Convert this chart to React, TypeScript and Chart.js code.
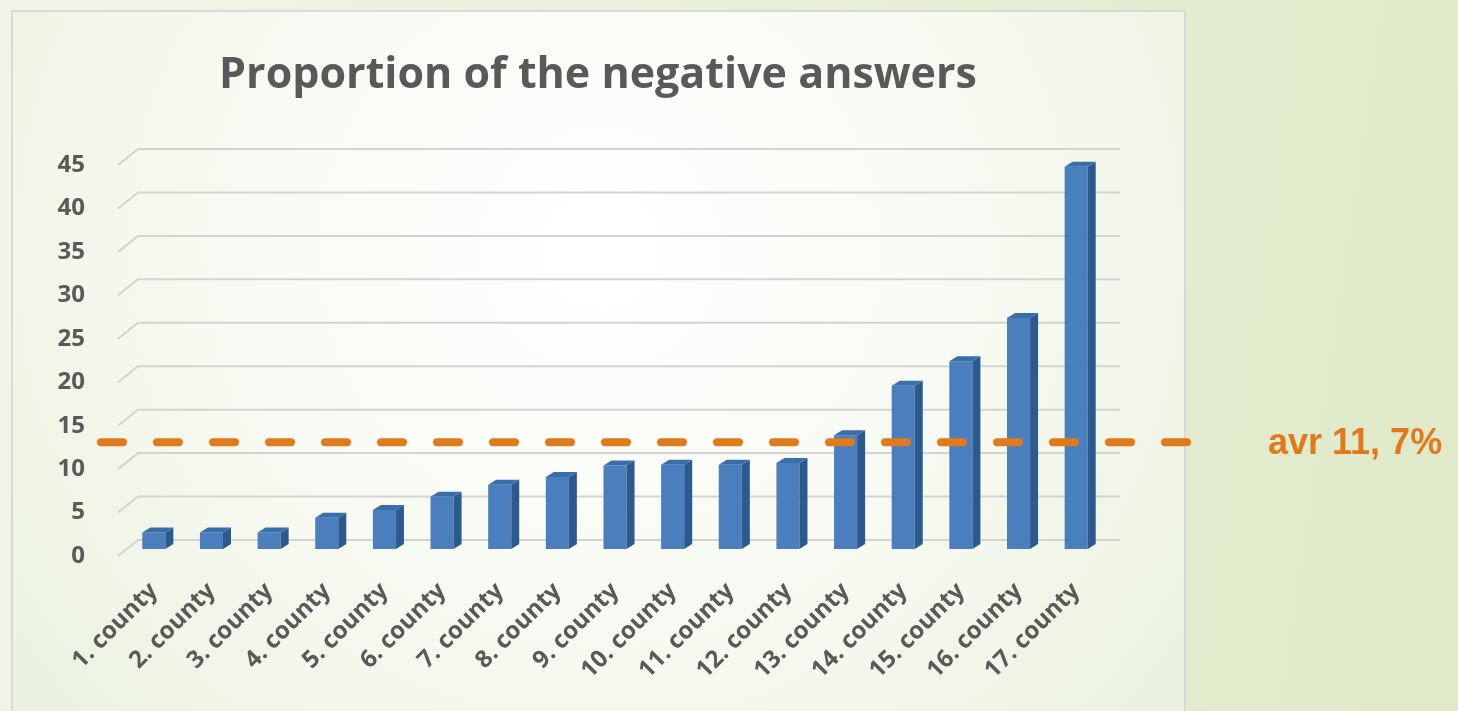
import React, { useEffect, useRef } from "react";
import { Chart, registerables } from "chart.js";

Chart.register(...registerables);

// Share of negative answers per county (%)
const counties = [
  "1. county", "2. county", "3. county", "4. county", "5. county", "6. county",
  "7. county", "8. county", "9. county", "10. county", "11. county", "12. county",
  "13. county", "14. county", "15. county", "16. county", "17. county",
];
const negativeShare = [1.9, 1.9, 1.9, 3.6, 4.5, 6.0, 7.4, 8.3, 9.6, 9.7, 9.7, 9.9, 13.1, 18.8, 21.6, 26.6, 44.0];
const averageShare = 11.7;
const averageLabel = "avr 11, 7%";
const chartTitle = "Proportion of the negative answers";
const yTicks = [0, 5, 10, 15, 20, 25, 30, 35, 40, 45];

const GREY = "#595959";
const ORANGE = "#E07A1C";

// Slide + chart-panel backdrop
const backdropPlugin = {
  id: "backdrop",
  beforeDraw(chart: any) {
    const { ctx, width, height } = chart;
    ctx.save();
    const page = ctx.createLinearGradient(0, 0, width, height * 0.3);
    page.addColorStop(0, "#f1f5e8");
    page.addColorStop(1, "#e0eac9");
    ctx.fillStyle = page;
    ctx.fillRect(0, 0, width, height);

    const px = 12, py = 11, pw = 1185 - 12, ph = height + 10;
    const rad = ctx.createRadialGradient(600, 250, 20, 600, 250, 900);
    rad.addColorStop(0, "#ffffff");
    rad.addColorStop(0.4, "#f7faf2");
    rad.addColorStop(1, "#e6eed6");
    ctx.fillStyle = rad;
    ctx.fillRect(px, py, pw, ph);
    ctx.strokeStyle = "#d8d8d8";
    ctx.lineWidth = 2;
    ctx.strokeRect(px, py, pw, ph);

    ctx.fillStyle = GREY;
    ctx.font = "bold 43px 'Open Sans'";
    ctx.textAlign = "center";
    ctx.textBaseline = "alphabetic";
    ctx.fillText(chartTitle, 598, 88);
    ctx.restore();
  },
};

// Perspective gridlines: back-wall line plus a slanted floor stub
const gridPlugin = {
  id: "perspectiveGrid",
  beforeDatasetsDraw(chart: any) {
    const { ctx, chartArea } = chart;
    const y = chart.scales.y;
    ctx.save();
    ctx.strokeStyle = "#d3d3d3";
    ctx.lineWidth = 2;
    yTicks.forEach((v) => {
      const py = y.getPixelForValue(v);
      ctx.beginPath();
      ctx.moveTo(chartArea.left - 7, py + 7);
      ctx.lineTo(chartArea.left + 13, py - 9);
      ctx.lineTo(chartArea.right + 15, py - 9);
      ctx.stroke();
    });
    ctx.restore();
  },
};

// Side and top faces for the bars
const bar3dPlugin = {
  id: "bar3d",
  afterDatasetsDraw(chart: any) {
    const { ctx } = chart;
    const meta = chart.getDatasetMeta(0);
    const dx = 8, dy = -5;
    ctx.save();
    meta.data.forEach((bar: any) => {
      const { x, y, base, width } = bar.getProps(["x", "y", "base", "width"], true);
      const l = x - width / 2;
      const r = x + width / 2;
      ctx.fillStyle = "#2d5a8e";
      ctx.beginPath();
      ctx.moveTo(r, y);
      ctx.lineTo(r + dx, y + dy);
      ctx.lineTo(r + dx, base + dy);
      ctx.lineTo(r, base);
      ctx.closePath();
      ctx.fill();
      ctx.fillStyle = "#3b6daa";
      ctx.beginPath();
      ctx.moveTo(l, y);
      ctx.lineTo(l + dx, y + dy);
      ctx.lineTo(r + dx, y + dy);
      ctx.lineTo(r, y);
      ctx.closePath();
      ctx.fill();
    });
    ctx.restore();
  },
};

// Dashed average line with its label
const averagePlugin = {
  id: "averageLine",
  afterDatasetsDraw(chart: any) {
    const { ctx } = chart;
    const py = chart.scales.y.getPixelForValue(averageShare) - 5;
    ctx.save();
    ctx.strokeStyle = ORANGE;
    ctx.lineWidth = 8;
    ctx.lineCap = "round";
    ctx.setLineDash([22, 34]);
    ctx.beginPath();
    ctx.moveTo(101, py);
    ctx.lineTo(1190, py);
    ctx.stroke();
    ctx.setLineDash([]);
    ctx.fillStyle = ORANGE;
    ctx.font = "bold 36px 'Liberation Sans'";
    ctx.textAlign = "left";
    ctx.textBaseline = "middle";
    ctx.fillText(averageLabel, 1268, py + 2);
    ctx.restore();
  },
};

export default function App() {
  const ref = useRef<HTMLCanvasElement>(null);

  useEffect(() => {
    document.body.style.margin = "0";
    const chart = new Chart(ref.current!, {
      type: "bar",
      data: {
        labels: counties,
        datasets: [
          {
            data: negativeShare,
            backgroundColor: "#4a7ebd",
            categoryPercentage: 1,
            barPercentage: 0.4,
          },
        ],
      },
      options: {
        animation: false,
        responsive: true,
        maintainAspectRatio: false,
        layout: { padding: { left: 0, right: 353, top: 158, bottom: 0 } },
        plugins: { legend: { display: false }, title: { display: false }, tooltip: { enabled: false } },
        scales: {
          x: {
            grid: { display: false },
            border: { display: false },
            ticks: {
              autoSkip: false,
              maxRotation: 45,
              minRotation: 45,
              padding: 20,
              color: GREY,
              font: { family: "'Open Sans'", size: 24, weight: "bold" },
            },
            afterFit(scale: any) {
              scale.height = 162;
            },
          },
          y: {
            min: 0,
            max: 45,
            grid: { display: false },
            border: { display: false },
            ticks: {
              stepSize: 5,
              padding: 32,
              labelOffset: 7,
              color: GREY,
              font: { family: "'Open Sans'", size: 24, weight: "bold" },
            },
            afterFit(scale: any) {
              scale.width = 125;
            },
          },
        },
      },
      plugins: [backdropPlugin, gridPlugin, bar3dPlugin, averagePlugin],
    });
    return () => chart.destroy();
  }, []);

  return (
    <div style={{ width: 1458, height: 711, position: "relative" }}>
      <canvas ref={ref} />
    </div>
  );
}
